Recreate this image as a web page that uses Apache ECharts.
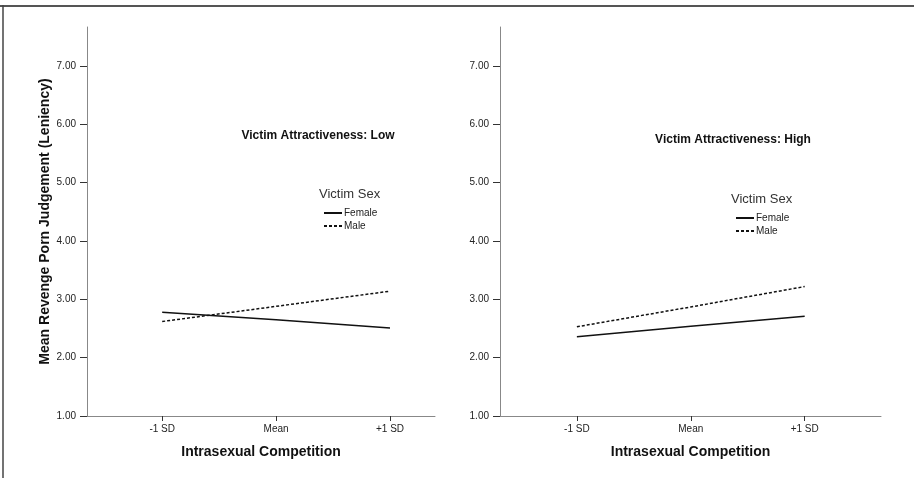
<!DOCTYPE html>
<html>
<head>
<meta charset="utf-8">
<script src="https://cdn.jsdelivr.net/npm/echarts@6.0.0/dist/echarts.min.js"></script>
<style>
  html, body { margin: 0; padding: 0; background: #fff; }
  #chart { width: 914px; height: 478px; }
</style>
</head>
<body>
<div id="chart"></div>
<script>
// x categories (placed at -1, 0, +1 on a value axis)
const xCategories = ['-1 SD', 'Mean', '+1 SD'];
const xPositions = [-1, 0, 1];
const yTicks = [1, 2, 3, 4, 5, 6, 7];

// Victim Attractiveness: Low
const lowFemale = [2.78, 2.65, 2.51];
const lowMale = [2.62, 2.88, 3.14];
// Victim Attractiveness: High
const highFemale = [2.36, 2.54, 2.71];
const highMale = [2.53, 2.87, 3.22];

const font = 'Liberation Sans, Arial, sans-serif';
const toPoints = vals => vals.map((v, i) => [xPositions[i], v]);

function xAxisFor(gridIndex, min, max) {
  return {
    type: 'value', gridIndex, min, max,
    name: 'Intrasexual Competition',
    nameLocation: 'middle', nameGap: 29,
    nameTextStyle: {fontFamily: font, fontSize: 14, fontWeight: 'bold', color: '#111'},
    splitLine: {show: false},
    axisLine: {onZero: false, lineStyle: {color: '#888', width: 1}},
    axisTick: {customValues: xPositions, length: 5, lineStyle: {color: '#333'}},
    axisLabel: {
      customValues: xPositions, margin: 8,
      fontFamily: font, fontSize: 10, color: '#222',
      formatter: v => xCategories[xPositions.indexOf(v)]
    }
  };
}

function yAxisFor(gridIndex, withName) {
  return {
    type: 'value', gridIndex, min: 1, max: 7.67,
    name: withName ? 'Mean Revenge Porn Judgement (Leniency)' : '',
    nameLocation: 'middle', nameGap: 35,
    nameTextStyle: {fontFamily: font, fontSize: 14, fontWeight: 'bold', color: '#111'},
    splitLine: {show: false},
    axisLine: {show: true, onZero: false, lineStyle: {color: '#888', width: 1}},
    axisTick: {show: true, customValues: yTicks, length: 7, lineStyle: {color: '#333'}},
    axisLabel: {
      customValues: yTicks, margin: 11,
      fontFamily: font, fontSize: 10, color: '#222',
      formatter: v => v.toFixed(2)
    }
  };
}

function lineSeries(name, idx, vals, dashed) {
  return {
    name, type: 'line', xAxisIndex: idx, yAxisIndex: idx,
    data: toPoints(vals), symbol: 'none', silent: true,
    lineStyle: {color: '#111', width: 1.5, type: dashed ? [3, 2] : 'solid'},
    itemStyle: {color: '#111'}
  };
}

function legendFor(left, top) {
  return {
    left, top, orient: 'vertical', padding: 0, itemGap: 3,
    itemWidth: 18, itemHeight: 10, selectedMode: false,
    data: ['Female', 'Male'],
    itemStyle: {opacity: 0},
    textStyle: {fontFamily: font, fontSize: 10, color: '#222', padding: [0, 0, 0, -3]}
  };
}

const myChart = echarts.init(document.getElementById('chart'));
myChart.setOption({
  animation: false,
  backgroundColor: '#fff',
  grid: [
    {left: 87, top: 27, width: 348, height: 389},
    {left: 500, top: 27, width: 381, height: 389}
  ],
  xAxis: [xAxisFor(0, -1.66, 1.395), xAxisFor(1, -1.675, 1.67)],
  yAxis: [yAxisFor(0, true), yAxisFor(1, false)],
  legend: [legendFor(323, 208), legendFor(735, 213)],
  series: [
    lineSeries('Female', 0, lowFemale, false),
    lineSeries('Male', 0, lowMale, true),
    lineSeries('Female', 1, highFemale, false),
    lineSeries('Male', 1, highMale, true)
  ],
  graphic: [
    {type: 'line', shape: {x1: 0, y1: 6, x2: 914, y2: 6}, style: {stroke: '#555', lineWidth: 2}},
    {type: 'line', shape: {x1: 3, y1: 5, x2: 3, y2: 478}, style: {stroke: '#444', lineWidth: 1.5}},
    {type: 'text', x: 318, y: 136, style: {text: 'Victim Attractiveness: Low', font: 'bold 12px ' + font, fill: '#111', textAlign: 'center', textVerticalAlign: 'middle'}},
    {type: 'text', x: 733, y: 140, style: {text: 'Victim Attractiveness: High', font: 'bold 12px ' + font, fill: '#111', textAlign: 'center', textVerticalAlign: 'middle'}},
    {type: 'text', x: 319, y: 194, style: {text: 'Victim Sex', font: '13px ' + font, fill: '#333', textAlign: 'left', textVerticalAlign: 'middle'}},
    {type: 'text', x: 731, y: 199, style: {text: 'Victim Sex', font: '13px ' + font, fill: '#333', textAlign: 'left', textVerticalAlign: 'middle'}}
  ]
});
</script>
</body>
</html>
